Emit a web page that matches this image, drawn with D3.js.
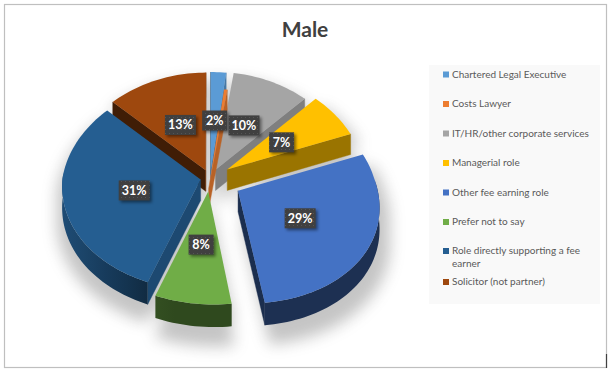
<!DOCTYPE html>
<html>
<head>
<meta charset="utf-8">
<script src="https://cdn.jsdelivr.net/npm/d3@7"></script>
<style>
  html, body { margin: 0; padding: 0; background: #ffffff; }
  svg { display: block; }
  text { font-family: Lato, "Open Sans", sans-serif; }
</style>
</head>
<body>
<div id="chart"></div>
<script>
const title = "Male";
const categories = [
  "Chartered Legal Executive",
  "Costs Lawyer",
  "IT/HR/other corporate services",
  "Managerial role",
  "Other fee earning role",
  "Prefer not to say",
  "Role directly supporting a fee earner",
  "Solicitor (not partner)"
];
const shares = [2, 0.4, 10, 7, 29, 8, 31, 13];
const labels = ["2%", "", "10%", "7%", "29%", "8%", "31%", "13%"];

const colors = ["#5b9bd5", "#ed7d31", "#a5a5a5", "#ffc000", "#4472c4", "#70ad47", "#255e91", "#9e480e"];
const explode = [0.08, -0.1, 0.09, 0.15, 0.23, 0.13, 0.07, 0.08];

const width = 615;
const height = 375;

const svg = d3.select("#chart")
  .append("svg")
  .attr("width", width)
  .attr("height", height);

svg.append("rect").attr("width", width).attr("height", height).attr("fill", "#ffffff");
svg.append("rect")
  .attr("x", 4.5).attr("y", 4.5).attr("width", 602).attr("height", 363)
  .attr("fill", "none").attr("stroke", "#bfbfbf").attr("stroke-width", 1.2);
svg.append("line")
  .attr("x1", 606.5).attr("x2", 606.5).attr("y1", 354).attr("y2", 368)
  .attr("stroke", "#404040").attr("stroke-width", 1.2);

const defs = svg.append("defs");
defs.append("filter").attr("id", "soft")
  .attr("x", "-20%").attr("y", "-20%").attr("width", "140%").attr("height", "140%")
  .append("feGaussianBlur").attr("stdDeviation", 7);
defs.append("filter").attr("id", "labelShadow")
  .attr("x", "-30%").attr("y", "-30%").attr("width", "160%").attr("height", "160%")
  .append("feGaussianBlur").attr("stdDeviation", 1.5);
const dots = defs.append("pattern").attr("id", "dots")
  .attr("width", 4).attr("height", 4).attr("patternUnits", "userSpaceOnUse");
dots.append("rect").attr("width", 4).attr("height", 4).attr("fill", "#404040");
dots.append("rect").attr("x", 1).attr("y", 1).attr("width", 1).attr("height", 1).attr("fill", "#555555");

// tilted plate, wy grows toward the viewer, the near side leans a little to the right
const cx = 210, cy = 178, radiusX = 138, radiusY = 104.5, perspX = 0.1, perspY = 0.06, lean = 0.04, depth = 21;
const labelRadius = 0.49;

function project(angle, r, d, lowered) {
  const wx = r * Math.sin(angle) + d.exp * Math.sin(d.mid);
  const wy = -r * Math.cos(angle) - d.exp * Math.cos(d.mid);
  const sy = 1 / (1 - perspY * wy);
  return [
    cx + radiusX * (wx + lean * Math.max(0, wy)) / (1 - perspX * wy),
    cy + radiusY * wy * sy + (lowered ? depth * sy : 0)
  ];
}

const pie = d3.pie().sort(null).value(d => d);
const arcs = pie(shares).map((d, i) => ({
  ...d,
  i,
  mid: (d.startAngle + d.endAngle) / 2,
  exp: explode[i]
}));

const line = d3.line().curve(d3.curveLinearClosed);
const toDeg = a => a * 180 / Math.PI;

function arcAngles(d) {
  const n = Math.max(2, Math.ceil((d.endAngle - d.startAngle) / 0.03));
  return d3.range(n + 1).map(k => d.startAngle + (d.endAngle - d.startAngle) * k / n);
}

function topPoints(d, lowered) {
  return [project(0, 0, d, lowered)].concat(arcAngles(d).map(a => project(a, 1, d, lowered)));
}

// soft shadow under the whole pie
const shadowGroup = svg.append("g")
  .attr("filter", "url(#soft)")
  .attr("transform", `translate(${cx + 2},${cy + 12}) scale(1.05) translate(${-cx},${-cy})`)
  .attr("opacity", 0.34);
arcs.forEach(d => {
  shadowGroup.append("path").attr("d", line(topPoints(d, false))).attr("fill", "#555555");
  shadowGroup.append("path").attr("d", line(topPoints(d, true))).attr("fill", "#555555");
});

// brightness of the side faces, by the compass direction they look in
const cutLight = d3.scaleLinear().domain([113, 135, 160, 225]).range([0.78, 0.77, 0.6, 0.4]).clamp(true);
const rimLight = d3.scaleLinear().domain([70, 195, 210, 285]).range([0.42, 0.42, 0.5, 0.85]).clamp(true);

function shade(color, k) {
  const c = d3.rgb(color);
  return d3.rgb(c.r * k, c.g * k, c.b * k).formatHex();
}

// back slices first
const drawOrder = arcs.slice().sort((a, b) =>
  project(a.mid, 0.6, a, false)[1] - project(b.mid, 0.6, b, false)[1]);

const sliceGroup = svg.append("g");
drawOrder.forEach(d => {
  const g = sliceGroup.append("g");
  const apexTop = project(0, 0, d, false);
  const apexLow = project(0, 0, d, true);

  [d.startAngle, d.endAngle].forEach((a, idx) => {
    const rimTop = project(a, 1, d, false);
    const rimLow = project(a, 1, d, true);
    const quad = idx === 0
      ? [apexTop, apexLow, rimLow, rimTop]
      : [apexTop, rimTop, rimLow, apexLow];
    if (d3.polygonArea(quad) > 0) return;
    const facing = (toDeg(a) + (idx === 0 ? -90 : 90) + 360) % 360;
    const c = shade(colors[d.i], cutLight(facing));
    g.append("path").attr("d", line(quad)).attr("fill", c).attr("stroke", c).attr("stroke-width", 0.4);
  });

  // outer wall as one band, only the stretch that faces the viewer
  const seen = arcAngles(d).filter(a => Math.cos(a) < 0.1);
  if (seen.length > 1) {
    const upper = seen.map(a => project(a, 1, d, false));
    const lower = seen.map(a => project(a, 1, d, true)).reverse();
    const gradId = `rim${d.i}`;
    const grad = defs.append("linearGradient").attr("id", gradId)
      .attr("gradientUnits", "userSpaceOnUse")
      .attr("x1", upper[0][0]).attr("y1", 0)
      .attr("x2", upper[upper.length - 1][0]).attr("y2", 0);
    d3.range(5).forEach(k => {
      const a = seen[Math.round((seen.length - 1) * k / 4)];
      grad.append("stop")
        .attr("offset", k / 4)
        .attr("stop-color", shade(colors[d.i], rimLight(toDeg(a))));
    });
    g.append("path").attr("d", line(upper.concat(lower))).attr("fill", `url(#${gradId})`);
  }

  g.append("path").attr("d", line(topPoints(d, false))).attr("fill", colors[d.i]);
});

// percentage tags
const labelGroup = svg.append("g");
arcs.filter(d => labels[d.i]).forEach(d => {
  const [x, y] = project(d.mid, labelRadius, d, false);
  const w = labels[d.i].length === 2 ? 25 : 31;
  labelGroup.append("rect")
    .attr("x", x - w / 2 + 2).attr("y", y - 10 + 2).attr("width", w).attr("height", 20)
    .attr("fill", "#000000").attr("opacity", 0.45).attr("filter", "url(#labelShadow)");
  labelGroup.append("rect")
    .attr("x", x - w / 2).attr("y", y - 10).attr("width", w).attr("height", 20)
    .attr("fill", "url(#dots)");
  labelGroup.append("text")
    .attr("x", x).attr("y", y + 4.3)
    .attr("text-anchor", "middle")
    .attr("font-size", 12.5).attr("font-weight", 700).attr("fill", "#ffffff")
    .text(labels[d.i]);
});

svg.append("text")
  .attr("x", 305).attr("y", 37)
  .attr("text-anchor", "middle")
  .attr("font-size", 21).attr("font-weight", 700).attr("fill", "#404040")
  .text(title);

// legend on the right
const legendTop = 65;
const legend = svg.append("g");
legend.append("rect")
  .attr("x", 429).attr("y", legendTop).attr("width", 171).attr("height", 239)
  .attr("fill", "#f9f9f9");

const legendY = d3.scalePoint().domain(d3.range(6)).range([legendTop + 9.5, legendTop + 157]);
categories.forEach((name, i) => {
  const y = i < 6 ? legendY(i) : (i === 6 ? legendTop + 186 : legendTop + 217);
  legend.append("rect")
    .attr("x", 443).attr("y", y - 3).attr("width", 6).attr("height", 6)
    .attr("fill", colors[i]);
  const parts = i === 6 ? ["Role directly supporting a fee", "earner"] : [name];
  parts.forEach((part, k) => {
    legend.append("text")
      .attr("x", 452).attr("y", y + 3.4 + k * 13)
      .attr("font-size", 10).attr("fill", "#595959")
      .text(part);
  });
});
</script>
</body>
</html>
